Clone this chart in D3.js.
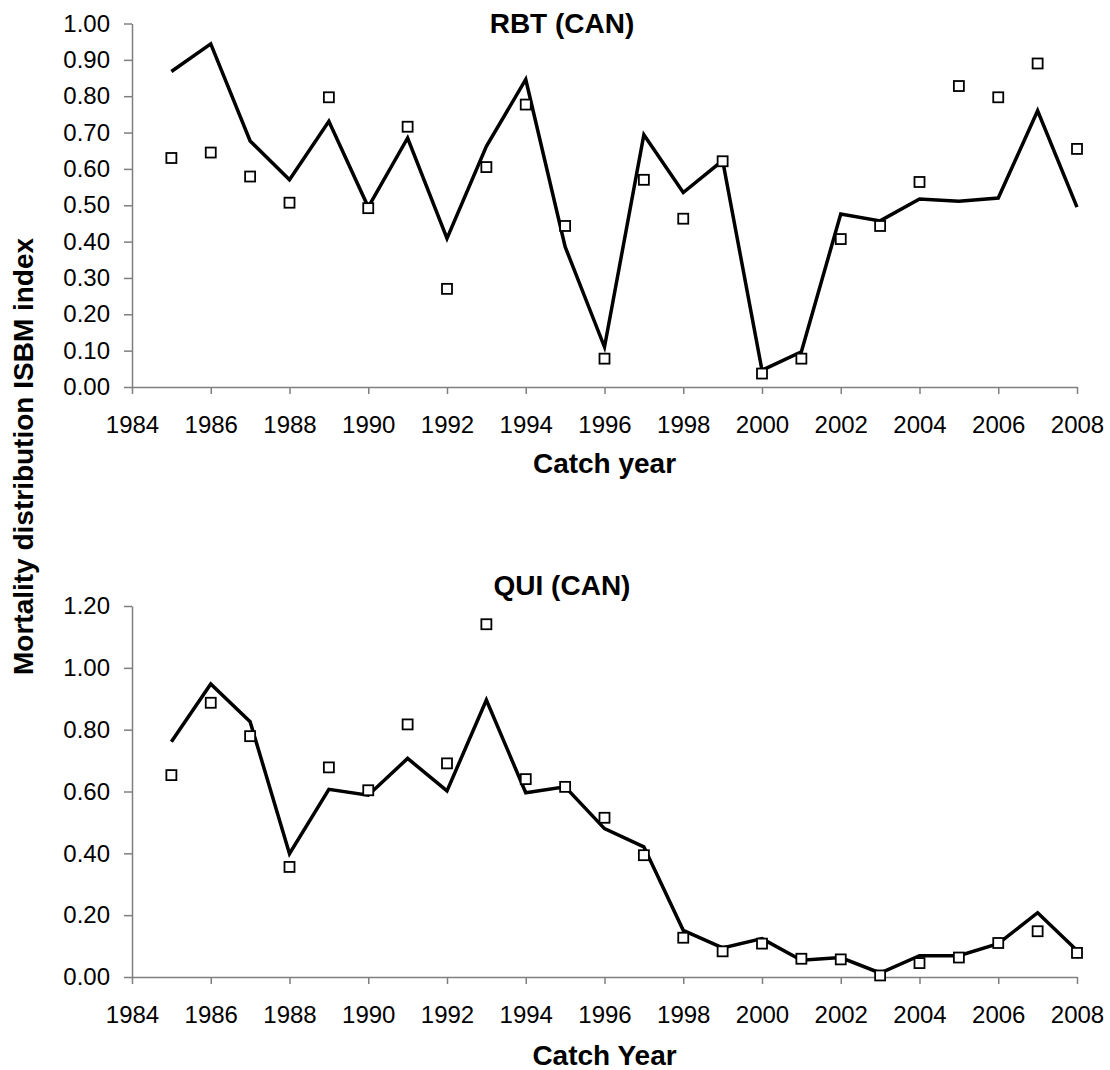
<!DOCTYPE html>
<html>
<head>
<meta charset="utf-8">
<script src="https://cdn.jsdelivr.net/npm/d3@7"></script>
<style>
  body { margin: 0; background: #fff; }
  svg text { font-family: "Liberation Sans", Arial, sans-serif; fill: #000; }
</style>
</head>
<body>
<div id="chart"></div>
<script>
// Catch years (shared by both panels)
const years = [1985,1986,1987,1988,1989,1990,1991,1992,1993,1994,1995,1996,
               1997,1998,1999,2000,2001,2002,2003,2004,2005,2006,2007,2008];
const xTicks = [1984,1986,1988,1990,1992,1994,1996,1998,2000,2002,2004,2006,2008];

// RBT (CAN): model line and observed squares
const rbtLine = [0.868,0.944,0.677,0.570,0.731,0.495,0.685,0.409,0.662,0.846,0.386,0.110,
                 0.694,0.535,0.623,0.046,0.097,0.476,0.457,0.517,0.511,0.520,0.760,0.495];
const rbtObs  = [0.630,0.645,0.579,0.507,0.797,0.492,0.716,0.270,0.605,0.777,0.443,0.078,
                 0.570,0.463,0.621,0.037,0.078,0.407,0.443,0.564,0.828,0.797,0.890,0.655];
const rbtYTicks = [0,0.1,0.2,0.3,0.4,0.5,0.6,0.7,0.8,0.9,1.0];

// QUI (CAN): model line and observed squares
const quiLine = [0.761,0.948,0.826,0.399,0.607,0.588,0.707,0.602,0.896,0.596,0.615,0.480,
                 0.421,0.151,0.094,0.124,0.054,0.063,0.013,0.069,0.069,0.108,0.208,0.086];
const quiObs  = [0.653,0.887,0.779,0.356,0.678,0.604,0.817,0.691,1.141,0.640,0.615,0.515,
                 0.394,0.127,0.083,0.108,0.059,0.057,0.005,0.045,0.063,0.110,0.148,0.078];
const quiYTicks = [0,0.2,0.4,0.6,0.8,1.0,1.2];

const W = 1110, H = 1070;
const svg = d3.select("#chart").append("svg")
  .attr("width", W)
  .attr("height", H);

svg.append("rect").attr("width", W).attr("height", H).attr("fill", "#fff");

const x = d3.scaleLinear().domain([1984, 2008]).range([132, 1077]);

function drawPanel(opts) {
  const y = d3.scaleLinear().domain([0, opts.yMax]).range([opts.bottom, opts.top]);
  const g = svg.append("g");

  // y axis
  const yAxis = g.append("g")
    .attr("transform", `translate(${x.range()[0]},0)`)
    .call(d3.axisLeft(y).tickValues(opts.yTicks).tickFormat(d3.format(".2f"))
      .tickSize(8).tickSizeOuter(0).tickPadding(14));
  // x axis
  const xAxis = g.append("g")
    .attr("transform", `translate(0,${opts.bottom})`)
    .call(d3.axisBottom(x).tickValues(xTicks).tickFormat(d3.format("d"))
      .tickSize(7).tickSizeOuter(0).tickPadding(22));

  [yAxis, xAxis].forEach(a => {
    a.selectAll("path.domain").attr("stroke", "#7f7f7f").attr("stroke-width", 1.5);
    a.selectAll(".tick line").attr("stroke", "#7f7f7f").attr("stroke-width", 1.5);
    a.selectAll(".tick text")
      .attr("font-size", "24px")
      .attr("font-family", "'Liberation Sans', Arial, sans-serif")
      .attr("fill", "#000");
  });

  // model line
  const line = d3.line()
    .x((d, i) => x(years[i]))
    .y(d => y(d));
  g.append("path")
    .datum(opts.line)
    .attr("d", line)
    .attr("fill", "none")
    .attr("stroke", "#000")
    .attr("stroke-width", 3.5)
    .attr("stroke-linejoin", "miter");

  // observed points
  g.selectAll("rect.obs")
    .data(opts.obs)
    .enter()
    .append("rect")
    .attr("class", "obs")
    .attr("x", (d, i) => x(years[i]) - 5)
    .attr("y", d => y(d) - 5)
    .attr("width", 10)
    .attr("height", 10)
    .attr("fill", "#fff")
    .attr("stroke", "#000")
    .attr("stroke-width", 1.8);

  // panel title
  g.append("text")
    .attr("x", 562)
    .attr("y", opts.titleY)
    .attr("text-anchor", "middle")
    .attr("font-size", "28px")
    .attr("font-weight", "bold")
    .text(opts.title);

  // x axis title
  g.append("text")
    .attr("x", (x.range()[0] + x.range()[1]) / 2)
    .attr("y", opts.xTitleY)
    .attr("text-anchor", "middle")
    .attr("font-size", "28px")
    .attr("font-weight", "bold")
    .text(opts.xTitle);
}

drawPanel({
  title: "RBT (CAN)", titleY: 33,
  yMax: 1.0, yTicks: rbtYTicks, top: 23.5, bottom: 387,
  line: rbtLine, obs: rbtObs,
  xTitle: "Catch year", xTitleY: 473
});

drawPanel({
  title: "QUI (CAN)", titleY: 595,
  yMax: 1.2, yTicks: quiYTicks, top: 606, bottom: 977,
  line: quiLine, obs: quiObs,
  xTitle: "Catch Year", xTitleY: 1065
});

// shared y axis title
svg.append("text")
  .attr("transform", "translate(33,675) rotate(-90)")
  .attr("text-anchor", "start")
  .attr("font-size", "28px")
  .attr("font-weight", "bold")
  .text("Mortality distribution ISBM index");
</script>
</body>
</html>
